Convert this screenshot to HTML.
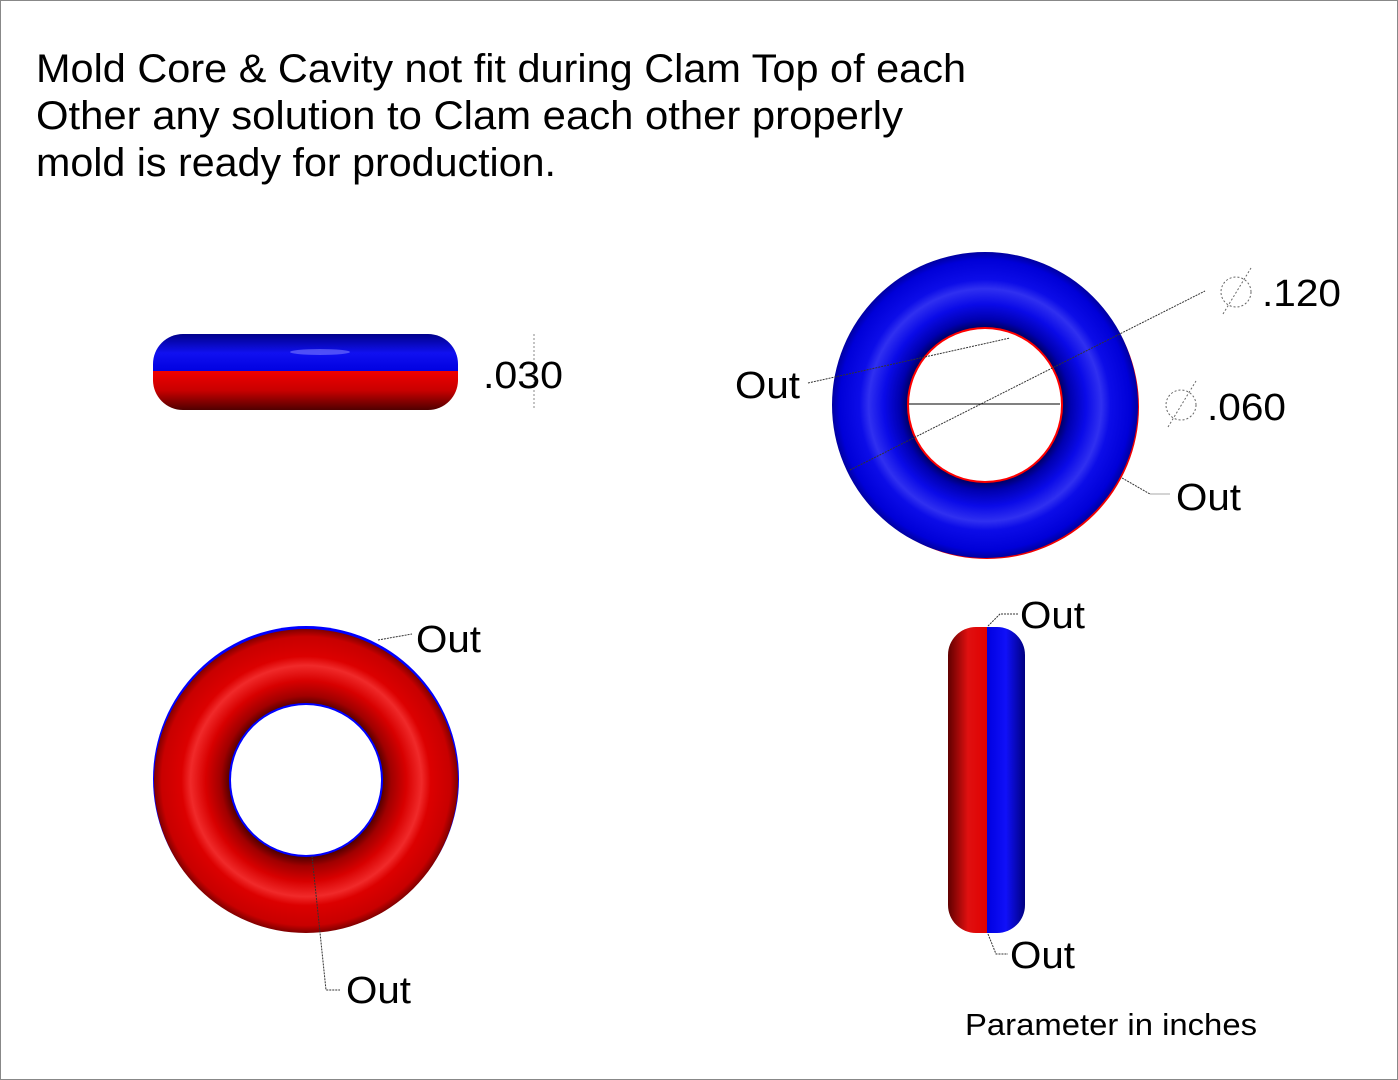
<!DOCTYPE html>
<html><head><meta charset="utf-8"><style>
html,body{margin:0;padding:0;background:#fff}
svg{display:block}
text{font-family:"Liberation Sans",Arial,sans-serif;fill:#000}
</style></head><body>
<svg width="1398" height="1080" viewBox="0 0 1398 1080" xmlns="http://www.w3.org/2000/svg">
<defs>
<radialGradient id="bt" cx="0.5" cy="0.5" r="0.5">
<stop offset="0.5" stop-color="#00005a"/><stop offset="0.56" stop-color="#0000b0"/><stop offset="0.66" stop-color="#0a0ae8"/><stop offset="0.76" stop-color="#3030f0"/><stop offset="0.82" stop-color="#0c0ce8"/><stop offset="0.95" stop-color="#0000d8"/><stop offset="1" stop-color="#0000a0"/>
</radialGradient>
<radialGradient id="rt" cx="0.5" cy="0.5" r="0.5">
<stop offset="0.5" stop-color="#500000"/><stop offset="0.56" stop-color="#a00000"/><stop offset="0.66" stop-color="#d80000"/><stop offset="0.76" stop-color="#f02a2a"/><stop offset="0.82" stop-color="#dc0000"/><stop offset="0.95" stop-color="#c80000"/><stop offset="1" stop-color="#800000"/>
</radialGradient>
<linearGradient id="sb" x1="0" y1="0" x2="0" y2="1">
<stop offset="0" stop-color="#00008a"/><stop offset="0.5" stop-color="#1010f0"/><stop offset="1" stop-color="#0000e0"/>
</linearGradient>
<linearGradient id="sr" x1="0" y1="0" x2="0" y2="1">
<stop offset="0" stop-color="#f00000"/><stop offset="0.5" stop-color="#c80000"/><stop offset="1" stop-color="#500000"/>
</linearGradient>
<linearGradient id="vr" x1="0" y1="0" x2="1" y2="0">
<stop offset="0" stop-color="#600000"/><stop offset="0.5" stop-color="#e01010"/><stop offset="1" stop-color="#e00000"/>
</linearGradient>
<linearGradient id="vb" x1="0" y1="0" x2="1" y2="0">
<stop offset="0" stop-color="#0000e0"/><stop offset="0.5" stop-color="#1010f8"/><stop offset="1" stop-color="#000080"/>
</linearGradient>
</defs>
<rect x="0.5" y="0.5" width="1397" height="1079" fill="#fff" stroke="#888" stroke-width="1"/>
<text x="36" y="82" font-size="40" textLength="930" lengthAdjust="spacingAndGlyphs">Mold Core &amp; Cavity not fit during Clam Top of each</text>
<text x="36" y="129" font-size="40" textLength="867" lengthAdjust="spacingAndGlyphs">Other any solution to  Clam each other properly</text>
<text x="36" y="176" font-size="40" textLength="520" lengthAdjust="spacingAndGlyphs">mold is ready for production.</text>

<clipPath id="c1"><rect x="153" y="334" width="305" height="76" rx="30"/></clipPath>
<g clip-path="url(#c1)">
<rect x="153" y="334" width="305" height="38" fill="url(#sb)"/>
<rect x="153" y="371" width="305" height="39" fill="url(#sr)"/>
<ellipse cx="320" cy="352" rx="30" ry="3" fill="#7a7aff" opacity="0.6"/>
</g>
<line x1="534" y1="334" x2="534" y2="410" stroke="#888" stroke-width="1" stroke-dasharray="2,2"/>
<text x="483" y="388" font-size="38" textLength="80" lengthAdjust="spacingAndGlyphs">.030</text>

<circle cx="987" cy="407" r="152" fill="#f00000"/>
<path fill-rule="evenodd" fill="url(#bt)" d="M832,405a153,153 0 1,0 306,0a153,153 0 1,0 -306,0z M908,405a77,77 0 1,0 154,0a77,77 0 1,0 -154,0z"/>
<circle cx="985" cy="405" r="77" fill="none" stroke="#f00" stroke-width="2"/>
<circle cx="985" cy="405" r="76" fill="#fff"/>
<line x1="909" y1="404" x2="1060" y2="404" stroke="#000" stroke-width="1"/>
<line x1="850" y1="470" x2="1205" y2="291" stroke="#333" stroke-width="1" stroke-dasharray="2,1"/>
<line x1="808" y1="383" x2="1010" y2="338" stroke="#333" stroke-width="1" stroke-dasharray="2,1"/>
<line x1="1122" y1="478" x2="1150" y2="494" stroke="#333" stroke-width="1" stroke-dasharray="2,1"/>
<line x1="1150" y1="494" x2="1170" y2="494" stroke="#aaa" stroke-width="1"/>
<text x="735" y="398" font-size="38" textLength="65" lengthAdjust="spacingAndGlyphs">Out</text>
<circle cx="1236" cy="292" r="15" fill="none" stroke="#666" stroke-dasharray="2,2"/>
<line x1="1223" y1="314" x2="1251" y2="268" stroke="#666" stroke-dasharray="2,2"/>
<text x="1262" y="306" font-size="38" textLength="79" lengthAdjust="spacingAndGlyphs">.120</text>
<circle cx="1181" cy="405" r="15" fill="none" stroke="#666" stroke-dasharray="2,2"/>
<line x1="1168" y1="427" x2="1196" y2="381" stroke="#666" stroke-dasharray="2,2"/>
<text x="1207" y="420" font-size="38" textLength="79" lengthAdjust="spacingAndGlyphs">.060</text>
<text x="1176" y="510" font-size="38" textLength="65" lengthAdjust="spacingAndGlyphs">Out</text>

<circle cx="306" cy="779" r="153" fill="#0000ff"/>
<path fill-rule="evenodd" fill="url(#rt)" d="M154,781a152,152 0 1,0 304,0a152,152 0 1,0 -304,0z M230,780a76,76 0 1,0 152,0a76,76 0 1,0 -152,0z"/>
<circle cx="306" cy="780" r="76" fill="none" stroke="#00f" stroke-width="2"/>
<circle cx="306" cy="780" r="75" fill="#fff"/>
<line x1="378" y1="640" x2="412" y2="634" stroke="#333" stroke-dasharray="2,1"/>
<polyline points="312,856 326,990 340,990" fill="none" stroke="#333" stroke-dasharray="2,1"/>
<text x="416" y="652" font-size="38" textLength="65" lengthAdjust="spacingAndGlyphs">Out</text>
<text x="346" y="1003" font-size="38" textLength="65" lengthAdjust="spacingAndGlyphs">Out</text>

<clipPath id="c2"><rect x="948" y="627" width="77" height="306" rx="28"/></clipPath>
<g clip-path="url(#c2)">
<rect x="948" y="627" width="40" height="306" fill="url(#vr)"/>
<rect x="987" y="627" width="38" height="306" fill="url(#vb)"/>
</g>
<polyline points="988,626 1000,614 1018,614" fill="none" stroke="#333" stroke-dasharray="2,1"/>
<polyline points="988,934 996,954 1008,954" fill="none" stroke="#333" stroke-dasharray="2,1"/>
<text x="1020" y="628" font-size="38" textLength="65" lengthAdjust="spacingAndGlyphs">Out</text>
<text x="1010" y="968" font-size="38" textLength="65" lengthAdjust="spacingAndGlyphs">Out</text>
<text x="965" y="1035" font-size="31" textLength="292" lengthAdjust="spacingAndGlyphs">Parameter in inches</text>
</svg>
</body></html>
